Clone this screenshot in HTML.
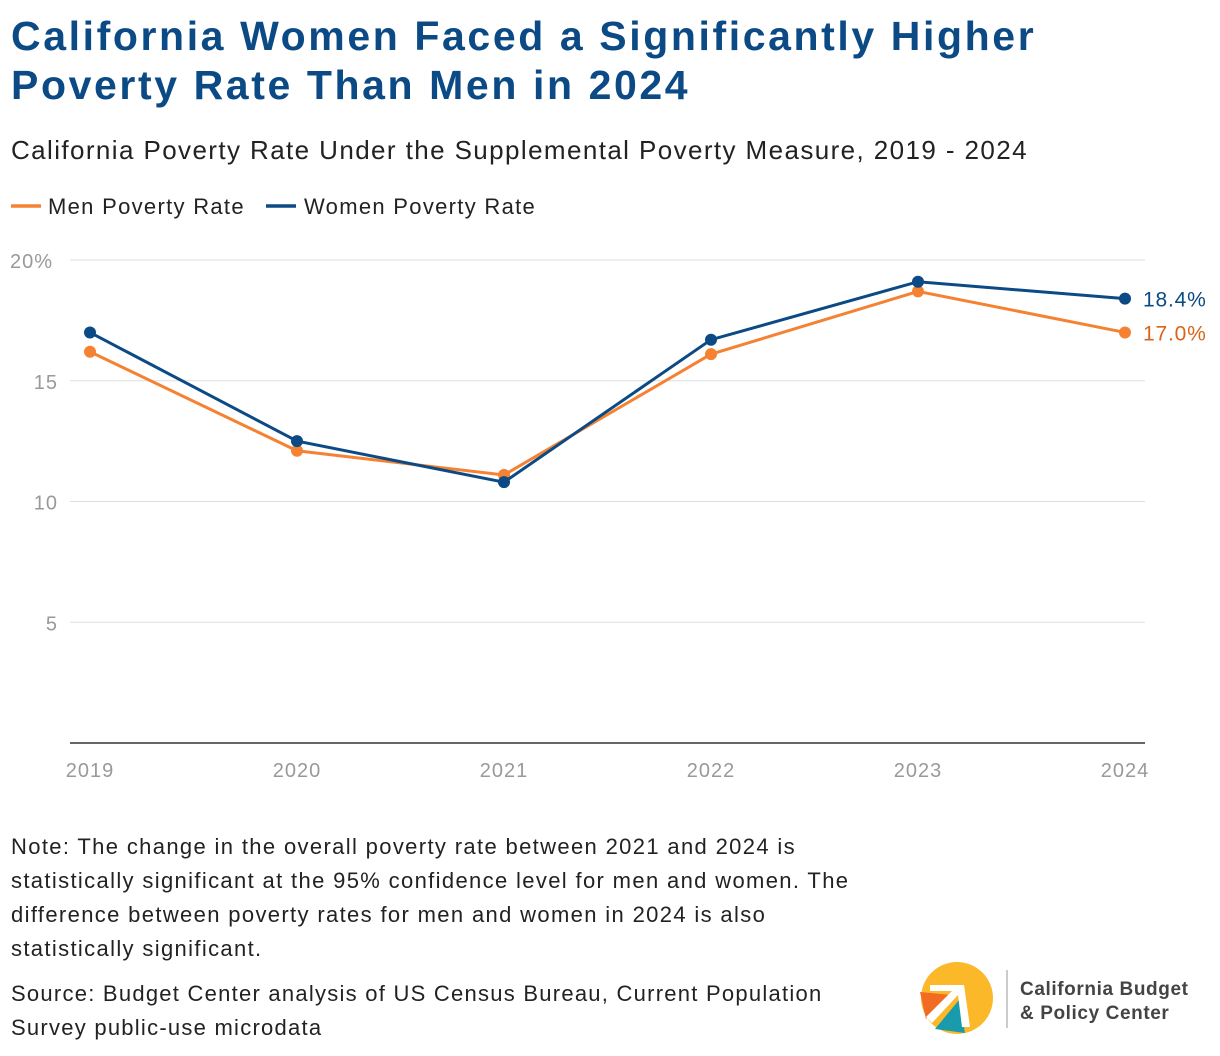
<!DOCTYPE html>
<html><head><meta charset="utf-8"><style>
body{margin:0;width:1220px;height:1056px;background:#fff;font-family:"Liberation Sans",sans-serif;position:relative;overflow:hidden}
.t{position:absolute;left:11px;top:12px;font-size:41px;font-weight:bold;color:#0b4a84;line-height:49px;letter-spacing:2.6px}
.s{position:absolute;left:11px;top:135px;font-size:26px;color:#222;letter-spacing:1.4px}
.note{position:absolute;left:11px;font-size:22px;color:#222;line-height:34px;letter-spacing:1.35px}
</style></head><body>
<div class="t">California Women Faced a Significantly Higher<br>Poverty Rate Than Men in 2024</div>
<div class="s">California Poverty Rate Under the Supplemental Poverty Measure, 2019 - 2024</div>
<svg id="c" width="1220" height="800" style="position:absolute;left:0;top:0"></svg>
<div class="note" style="top:830px">Note: The change in the overall poverty rate between 2021 and 2024 is<br>statistically significant at the 95% confidence level for men and women. The<br>difference between poverty rates for men and women in 2024 is also<br>statistically significant.</div>
<div class="note" style="top:977px;letter-spacing:1.25px">Source: Budget Center analysis of US Census Bureau, Current Population<br>Survey public-use microdata</div>
<svg width="300" height="90" style="position:absolute;left:910px;top:955px">
<circle cx="47" cy="43" r="36" fill="#fbb829"/>
<path d="M10 37 L42 40 L16 64 Z" fill="#f26b25"/>
<path d="M49 45 L55 78 L25 74 Z" fill="#1a9bab"/>
<path d="M20 30 L54 30 L60 72 L52 72 L48 40 L22 68 L16 62 L42 36 L20 36 Z" fill="#fff"/>
<line x1="97" y1="15" x2="97" y2="73" stroke="#bbb" stroke-width="1.5"/>
<text x="110" y="40" font-size="19" fill="#444" font-weight="bold" letter-spacing="0.6" font-family="Liberation Sans, sans-serif">California Budget</text>
<text x="110" y="64" font-size="19" fill="#444" font-weight="bold" letter-spacing="0.6" font-family="Liberation Sans, sans-serif">&amp; Policy Center</text>
</svg>
<script>
const years=["2019","2020","2021","2022","2023","2024"];
const men=[16.2,12.1,11.1,16.1,18.7,17.0];
const women=[17.0,12.5,10.8,16.7,19.1,18.4];
const yTicks=[5,10,15,20];
const ns="http://www.w3.org/2000/svg",svg=document.getElementById('c');
const X=i=>90+i*207, Y=v=>743-v*24.15;
function el(t,a,txt){const e=document.createElementNS(ns,t);for(const k in a)e.setAttribute(k,a[k]);if(txt!=null)e.textContent=txt;svg.appendChild(e);return e;}
let l=el('line',{x1:11,y1:206,x2:41,y2:206,stroke:'#f58232','stroke-width':3.5});


let t=el('text',{x:48,y:214,'font-size':22,fill:'#222','letter-spacing':1.3},'Men Poverty Rate');


l=el('line',{x1:266,y1:206,x2:296,y2:206,stroke:'#0b4a84','stroke-width':3.5});


t=el('text',{x:304,y:214,'font-size':22,fill:'#222','letter-spacing':1.3},'Women Poverty Rate');


yTicks.forEach(v=>{
 const g=el('line',{x1:70,x2:1145,y1:Y(v),y2:Y(v),stroke:'#ddd','stroke-width':1});
 
 
 const tx=el('text',{x:58,y:Y(v)+8,'font-size':20,fill:'#999','text-anchor':'end','letter-spacing':1},v+(v===20?'%':''));
 if(v===20)tx.setAttribute('x',10),tx.setAttribute('text-anchor','start');
 
 
});
const ax=el('line',{x1:70,x2:1145,y1:743,y2:743,stroke:'#333','stroke-width':1.5});


years.forEach((y,i)=>{
 const tx=el('text',{x:X(i),y:777,'font-size':20,fill:'#999','text-anchor':'middle','letter-spacing':1},y);
 
 
});
function series(d,c,name){
 const p=el('polyline',{points:d.map((v,i)=>X(i)+','+Y(v)).join(' '),fill:'none',stroke:c,'stroke-width':3});
 
 
 d.forEach((v,i)=>{
  const ci=el('circle',{cx:X(i),cy:Y(v),r:6,fill:c});
  
  
 });
 const last=d.length-1;
 const lb=el('text',{x:X(last)+18,y:Y(d[last])+8,'font-size':21,fill:c==='#f58232'?'#d9641a':c,'letter-spacing':0.8},d[last].toFixed(1)+'%');
 
 
}
series(men,'#f58232','men');
series(women,'#0b4a84','women');
</script>
</body></html>
